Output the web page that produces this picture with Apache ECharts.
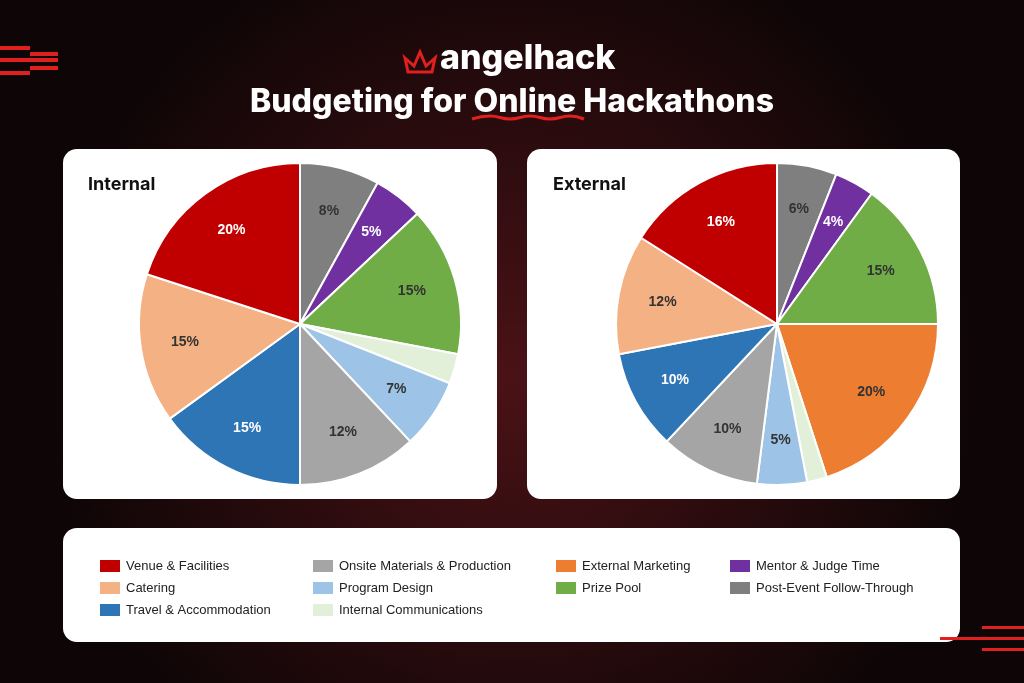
<!DOCTYPE html>
<html lang='en'>
<head>
  <meta charset='UTF-8'>
  <title>Budgeting for Online Hackathons</title>
  <script src="https://cdn.jsdelivr.net/npm/echarts@6/dist/echarts.min.js"></script>
  <style>html,body{margin:0;padding:0;background:#120607;}</style>
</head>
<body>
<div id="main" style="width: 1024px; height:683px;"></div>
<script>
  const categories = ['Venue & Facilities','Catering','Travel & Accommodation','Onsite Materials & Production','Program Design','Internal Communications','External Marketing','Prize Pool','Mentor & Judge Time','Post-Event Follow-Through']
  const colors = ['#c00000','#f4b183','#2e75b6','#a5a5a5','#9dc3e6','#e2f0d9','#ed7d31','#70ad47','#7030a0','#7f7f7f']
  const whiteLabel = ['Venue & Facilities','Travel & Accommodation','Mentor & Judge Time']

  // clockwise from 12 o'clock
  const internalOrder = ['Post-Event Follow-Through','Mentor & Judge Time','Prize Pool','Internal Communications','Program Design','Onsite Materials & Production','Travel & Accommodation','Catering','Venue & Facilities']
  const internalValues = [8, 5, 15, 3, 7, 12, 15, 15, 20]
  const externalOrder = ['Post-Event Follow-Through','Mentor & Judge Time','Prize Pool','External Marketing','Internal Communications','Program Design','Onsite Materials & Production','Travel & Accommodation','Catering','Venue & Facilities']
  const externalValues = [6, 4, 15, 20, 2, 5, 10, 10, 12, 16]

  const legendCols = [
    ['Venue & Facilities','Catering','Travel & Accommodation'],
    ['Onsite Materials & Production','Program Design','Internal Communications'],
    ['External Marketing','Prize Pool'],
    ['Mentor & Judge Time','Post-Event Follow-Through']
  ]
  const legendX = [93, 306, 549, 723]

  function pie(name, cx, order, values) {
    return {
      name, type: 'pie', center: [cx, 324], radius: [0, 161], startAngle: 90, clockwise: true,
      animation: false, silent: true,
      itemStyle: { borderColor: '#fff', borderWidth: 2 },
      label: { show: false }, labelLine: { show: false },
      data: order.map((n, i) => ({ name: n, value: values[i], itemStyle: { color: colors[categories.indexOf(n)] } }))
    }
  }
  // transparent ring that only carries the labels, pushed outward
  function labels(cx, order, values) {
    return {
      type: 'pie', center: [cx, 324], radius: [66, 161], startAngle: 90, clockwise: true,
      animation: false, silent: true, legendHoverLink: false,
      itemStyle: { color: 'transparent' },
      label: { position: 'inside', formatter: '{c}%', fontFamily: 'Liberation Sans', fontWeight: 'bold', fontSize: 14 },
      labelLine: { show: false },
      data: order.map((n, i) => ({
        name: n + ' ', value: values[i],
        label: { show: values[i] >= 4, color: whiteLabel.includes(n) ? '#fff' : '#333' }
      }))
    }
  }

  const stripes = []
  ;[46, 58, 71].forEach((y, i) => stripes.push({ type: 'rect', shape: { x: 0, y, width: i === 1 ? 58 : 30, height: 4 }, style: { fill: '#e0201e' } }))
  stripes.push({ type: 'rect', shape: { x: 30, y: 52, width: 28, height: 4 }, style: { fill: '#e0201e' } })
  stripes.push({ type: 'rect', shape: { x: 30, y: 66, width: 28, height: 4 }, style: { fill: '#e0201e' } })
  ;[626, 637, 648].forEach((y, i) => stripes.push({ type: 'rect', shape: { x: i === 1 ? 940 : 982, y, width: 84, height: 3 }, style: { fill: '#e0201e' } }))

  var myChart = echarts.init(document.getElementById('main'));
  var option = {
    backgroundColor: {
      type: 'radial', x: 0.5, y: 0.55, r: 0.7,
      colorStops: [{ offset: 0, color: '#4a1216' }, { offset: 1, color: '#0d0506' }]
    },
    color: colors,
    legend: legendCols.map((col, i) => ({
      data: col, orient: 'vertical', left: legendX[i], top: 553, itemGap: 6,
      itemWidth: 22, itemHeight: 14, icon: 'rect', selectedMode: false,
      textStyle: { fontFamily: 'Liberation Sans', fontSize: 13, color: '#222' }
    })),
    graphic: [
      ...stripes,
      { type: 'rect', shape: { x: 63, y: 149, width: 434, height: 350, r: 14 }, style: { fill: '#fff' }, z: -1 },
      { type: 'rect', shape: { x: 527, y: 149, width: 433, height: 350, r: 14 }, style: { fill: '#fff' }, z: -1 },
      { type: 'rect', shape: { x: 63, y: 528, width: 897, height: 114, r: 14 }, style: { fill: '#fff' }, z: -1 },
      { type: 'text', left: 88, top: 176, style: { text: 'Internal', font: 'bold 18px Inter', fill: '#111' } },
      { type: 'text', left: 553, top: 176, style: { text: 'External', font: 'bold 18px Inter', fill: '#111' } },
      { type: 'polygon', shape: { points: [[405,58],[414,66],[420,52],[426,66],[435,58],[432,72],[408,72]] }, style: { fill: 'none', stroke: '#e0201e', lineWidth: 3 } },
      { type: 'text', left: 440, top: 42, style: { text: 'angelhack', font: '800 34px Inter', fill: '#fff' } },
      { type: 'text', left: 'center', top: 86, style: { text: 'Budgeting for Online Hackathons', font: '800 32px Inter', fill: '#fff' } },
      { type: 'polyline', shape: { points: [[472,119],[490,116],[510,119],[530,116],[550,119],[570,116],[584,119]], smooth: 0.5 }, style: { stroke: '#e0201e', lineWidth: 3, fill: 'none' } }
    ],
    series: [
      pie('Internal', 300, internalOrder, internalValues),
      pie('External', 777, externalOrder, externalValues),
      labels(300, internalOrder, internalValues),
      labels(777, externalOrder, externalValues)
    ]
  };
  myChart.setOption(option);
</script>
</body>
</html>
